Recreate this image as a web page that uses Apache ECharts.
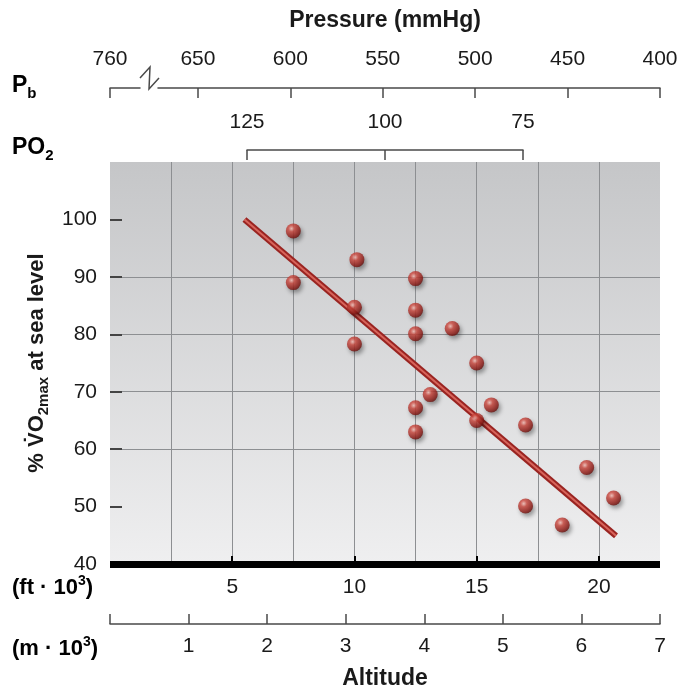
<!DOCTYPE html>
<html>
<head>
<meta charset="utf-8">
<script src="https://cdn.jsdelivr.net/npm/echarts@6/dist/echarts.min.js"></script>
<style>
html,body{margin:0;padding:0;background:#fff;}
#chart{width:682px;height:691px;}
</style>
</head>
<body>
<div id="chart"></div>
<script>
// ---- data ----
var altitudeKft = [7.5, 7.5, 10.1, 12.5, 10, 12.5, 12.5, 14, 10, 15, 13.1, 12.5, 15.6, 15, 12.5, 17, 19.5, 20.6, 17, 18.5];
var vo2Pct      = [98, 89, 93, 89.7, 84.7, 84.2, 80.1, 81, 78.3, 75, 69.5, 67.2, 67.7, 65, 63, 64.2, 56.8, 51.5, 50.1, 46.8];
var fitKft = [5.5, 20.7];
var fitPct = [100, 44.9];
var ftTicks = [5, 10, 15, 20];
var mTicks = [0, 1, 2, 3, 4, 5, 6, 7];
var pbTicks = [650, 600, 550, 500, 450, 400];
var pbBrokenTick = [760];
var po2Ticks = [125, 100, 75];
var yTicks = [40, 50, 60, 70, 80, 90, 100];

var FONT = 'Liberation Sans, Arial, Helvetica, sans-serif';
var TXT = '#1a1a1a';
var AXC = '#4a4a4a';
var TICKFS = 21;

function pairs(xs, ys){ return xs.map(function(x,i){ return [x, ys[i]]; }); }

var chart = echarts.init(document.getElementById('chart'), null, {renderer:'canvas'});

var subRich = {
  sub: {fontFamily: FONT, fontSize: 15, fontWeight: 'bold', color: TXT, lineHeight: 15, verticalAlign: 'bottom'},
  sup: {fontFamily: FONT, fontSize: 14, fontWeight: 'bold', color: TXT, lineHeight: 14, verticalAlign: 'top'},
  b: {fontFamily: FONT, fontSize: 23, fontWeight: 'bold', color: TXT, lineHeight: 30},
  m: {fontFamily: FONT, fontSize: 22, fontWeight: 'bold', color: TXT, lineHeight: 28}
};

var hiddenY = function(gi){
  return {gridIndex: gi, type: 'value', min: 0, max: 1, show: false};
};

var tickLabel = function(custom, margin){
  return {show: true, customValues: custom, margin: margin, fontFamily: FONT, fontSize: TICKFS, color: TXT};
};

var option = {
  animation: false,
  backgroundColor: '#ffffff',
  grid: [
    {left: 110, right: 22, top: 162, bottom: 127, show: true, borderWidth: 0,
     backgroundColor: new echarts.graphic.LinearGradient(0, 0, 0, 1, [
       {offset: 0, color: '#c5c6c8'}, {offset: 1, color: '#efeff0'}])},
    {left: 158, right: 22, top: 78, height: 10},
    {left: 110, width: 30, top: 78, height: 10},
    {left: 247, width: 276, top: 140, height: 10},
    {left: 110, right: 22, top: 616, height: 10}
  ],
  xAxis: [
    { // main grid lines + black base bar
      gridIndex: 0, type: 'value', min: 0, max: 22.5, interval: 2.5, position: 'bottom',
      axisLine: {show: true, onZero: false, lineStyle: {color: '#000', width: 7, cap: 'butt'}},
      axisTick: {show: false}, axisLabel: {show: false},
      splitLine: {show: true, showMinLine: false, showMaxLine: false, lineStyle: {color: '#8d8f92', width: 1}}
    },
    { // ft labels
      gridIndex: 0, type: 'value', min: 0, max: 22.5, position: 'bottom',
      axisLine: {show: false},
      axisTick: {show: true, inside: true, length: 8, customValues: ftTicks, lineStyle: {color: '#000', width: 2}},
      axisLabel: tickLabel(ftTicks, 13),
      splitLine: {show: false}
    },
    { // barometric pressure
      gridIndex: 1, type: 'value', min: 400, max: 671.6, inverse: true, position: 'top',
      axisLine: {show: true, lineStyle: {color: AXC, width: 1.5}},
      axisTick: {show: true, inside: true, length: 10, customValues: pbTicks, lineStyle: {color: AXC, width: 1.5}},
      axisLabel: tickLabel(pbTicks, 8),
      splitLine: {show: false}
    },
    { // 760 stub before the break
      gridIndex: 2, type: 'value', min: 740, max: 760, inverse: true, position: 'top',
      axisLine: {show: true, lineStyle: {color: AXC, width: 1.5}},
      axisTick: {show: true, inside: true, length: 10, customValues: pbBrokenTick, lineStyle: {color: AXC, width: 1.5}},
      axisLabel: tickLabel(pbBrokenTick, 8),
      splitLine: {show: false}
    },
    { // PO2 bracket
      gridIndex: 3, type: 'value', min: 75, max: 125, inverse: true, position: 'top',
      axisLine: {show: true, lineStyle: {color: AXC, width: 1.5}},
      axisTick: {show: true, inside: true, length: 10, customValues: po2Ticks, lineStyle: {color: AXC, width: 1.5}},
      axisLabel: tickLabel(po2Ticks, 7),
      splitLine: {show: false}
    },
    { // metres
      gridIndex: 4, type: 'value', min: 0, max: 7, position: 'bottom',
      axisLine: {show: true, lineStyle: {color: AXC, width: 1.5}},
      axisTick: {show: true, inside: true, length: 10, customValues: mTicks, lineStyle: {color: AXC, width: 1.5}},
      axisLabel: tickLabel(mTicks.filter(function(v){return v>0;}), 12),
      splitLine: {show: false},
      name: 'Altitude', nameLocation: 'middle', nameGap: 43,
      nameTextStyle: {fontFamily: FONT, fontSize: 23, fontWeight: 'bold', color: TXT}
    }
  ],
  yAxis: [
    {
      gridIndex: 0, type: 'value', min: 40, max: 110, interval: 10,
      axisLine: {show: false},
      axisTick: {show: true, inside: true, length: 12, customValues: yTicks.filter(function(v){return v>40;}), lineStyle: {color: '#444', width: 2}},
      axisLabel: tickLabel(yTicks, 13),
      splitLine: {show: true, showMinLine: false, showMaxLine: false, lineStyle: {color: '#8d8f92', width: 1}},
      name: '{m|% V\u0307O}{sub|2max}{m| at sea level}', nameLocation: 'middle', nameRotate: 90, nameGap: 56,
      nameTextStyle: {fontFamily: FONT, fontSize: 22, fontWeight: 'bold', color: TXT, lineHeight: 28, rich: subRich}
    },
    hiddenY(1), hiddenY(2), hiddenY(3), hiddenY(4)
  ],
  graphic: [
    {type: 'text', x: 385, y: 21, style: {text: 'Pressure (mmHg)', font: 'bold 23px ' + FONT, fill: TXT, align: 'center', verticalAlign: 'middle'}},
    {type: 'text', x: 12, y: 86, style: {text: '{b|P}{sub|b}', rich: subRich, align: 'left', verticalAlign: 'middle'}},
    {type: 'text', x: 12, y: 148, style: {text: '{b|PO}{sub|2}', rich: subRich, align: 'left', verticalAlign: 'middle'}},
    {type: 'text', x: 12, y: 588, style: {text: '{m|(ft \u00b7 10}{sup|3}{m|)}', rich: subRich, align: 'left', verticalAlign: 'middle'}},
    {type: 'text', x: 12, y: 649, style: {text: '{m|(m \u00b7 10}{sup|3}{m|)}', rich: subRich, align: 'left', verticalAlign: 'middle'}},
    {type: 'polyline', shape: {points: [[140, 78], [150, 67], [149, 89], [159, 78]]}, style: {stroke: AXC, lineWidth: 1.5, fill: null}}
  ],
  series: [
    {
      type: 'line', xAxisIndex: 0, yAxisIndex: 0, data: pairs(fitKft, fitPct),
      symbol: 'none', lineStyle: {color: '#9a2421', width: 6, cap: 'butt'}, z: 3, silent: true
    },
    {
      type: 'line', xAxisIndex: 0, yAxisIndex: 0, data: pairs(fitKft, fitPct),
      symbol: 'none', lineStyle: {color: '#d8645b', width: 2}, z: 4, silent: true
    },
    {
      type: 'scatter', xAxisIndex: 0, yAxisIndex: 0, data: pairs(altitudeKft, vo2Pct),
      symbol: 'circle', symbolSize: 15, z: 5,
      itemStyle: {
        color: new echarts.graphic.RadialGradient(0.38, 0.35, 0.7, [
          {offset: 0, color: '#f7c0b8'}, {offset: 0.3, color: '#cf4a40'},
          {offset: 0.75, color: '#951f1a'}, {offset: 1, color: '#5f0e0b'}]),
        shadowColor: 'rgba(0,0,0,0.45)', shadowBlur: 4, shadowOffsetX: 2, shadowOffsetY: 3
      }
    }
  ]
};
chart.setOption(option);
</script>
</body>
</html>
